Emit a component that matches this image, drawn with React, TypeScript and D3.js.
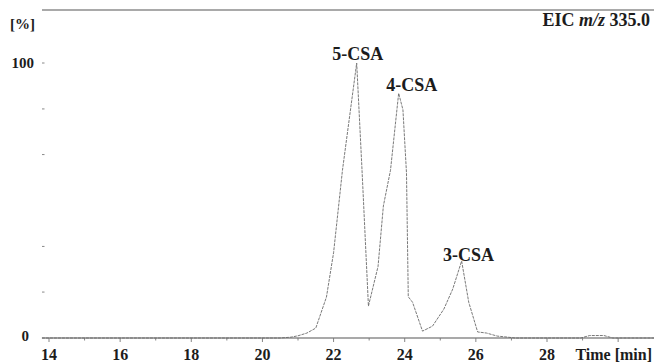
import * as d3 from "d3";
import { useEffect, useRef } from "react";

// retention time (min) and relative intensity (%)
const times = [
    13.8, 20.5, 20.8, 21.0, 21.25, 21.5, 21.8, 22.0, 22.25, 22.65, 22.8, 22.98,
    23.25, 23.4, 23.6, 23.83, 23.95, 24.05, 24.1, 24.22, 24.5, 24.78, 25.1,
    25.35, 25.6, 25.8, 26.05, 26.3, 26.6, 26.9, 27.1, 28.95, 29.2, 29.6, 29.85,
    31.2,
];
const intensity = [
    0, 0, 0.3, 0.8, 1.8, 3.6, 14.9, 31, 61, 100, 61, 11.6, 26, 48, 61, 89, 83,
    60, 15, 13, 2.5, 4.3, 10.5, 17.8, 28, 13, 2.2, 1.8, 0.7, 0.3, 0, 0, 0.9,
    0.9, 0, 0,
];

const xTickLabels = [14, 16, 18, 20, 22, 24, 26, 28];
const xMinorTicks = [14, 15, 16, 17, 18, 19, 20, 21, 22, 23, 24, 25, 26, 27, 28, 29, 30];
const yTicks = [100, 83.3, 66.7, 33.3, 16.7];

const peakNames = ["5-CSA", "4-CSA", "3-CSA"];
const peakTimes = [22.65, 23.83, 25.6];
const peakHeights = [100, 89, 28];

export default function App() {
    const ref = useRef<SVGSVGElement | null>(null);

    useEffect(() => {
        if (!ref.current) return;
        const svg = d3.select(ref.current);
        svg.selectAll("*").remove();

        const width = 654;
        const height = 363;
        const serif = "'Liberation Serif', 'DejaVu Serif', serif";
        const ink = "#1c1c1c";

        const x = d3.scaleLinear().domain([14, 28]).range([49, 547]);
        const y = d3.scaleLinear().domain([0, 100]).range([338, 63]);

        svg.attr("width", width).attr("height", height);

        svg.append("rect")
            .attr("width", width)
            .attr("height", height)
            .attr("fill", "white");

        // top frame line
        svg.append("line")
            .attr("x1", 42)
            .attr("x2", width)
            .attr("y1", 10)
            .attr("y2", 10)
            .attr("stroke", "#555")
            .attr("stroke-width", 1.2);

        // baseline / time axis
        svg.append("line")
            .attr("x1", 42)
            .attr("x2", width)
            .attr("y1", y(0))
            .attr("y2", y(0))
            .attr("stroke", "#555")
            .attr("stroke-width", 1.2);

        svg.append("g")
            .selectAll("line")
            .data(xMinorTicks)
            .join("line")
            .attr("x1", (d) => x(d))
            .attr("x2", (d) => x(d))
            .attr("y1", y(0))
            .attr("y2", (d) => y(0) + (d % 2 === 0 ? 4 : 2.5))
            .attr("stroke", "#777")
            .attr("stroke-width", 0.9);

        svg.append("g")
            .selectAll("text")
            .data(xTickLabels)
            .join("text")
            .attr("x", (d) => x(d))
            .attr("y", 360)
            .attr("text-anchor", "middle")
            .style("font-family", serif)
            .style("font-size", "16px")
            .style("font-weight", "700")
            .style("fill", ink)
            .text((d) => d);

        svg.append("text")
            .attr("x", 652)
            .attr("y", 360)
            .attr("text-anchor", "end")
            .style("font-family", serif)
            .style("font-size", "16px")
            .style("font-weight", "700")
            .style("fill", ink)
            .text("Time [min]");

        // y ticks (no vertical axis line in the original)
        svg.append("g")
            .selectAll("line")
            .data(yTicks)
            .join("line")
            .attr("x1", 42)
            .attr("x2", 44.5)
            .attr("y1", (d) => y(d))
            .attr("y2", (d) => y(d))
            .attr("stroke", "#888")
            .attr("stroke-width", 1);

        svg.append("text")
            .attr("x", 34)
            .attr("y", y(100) + 5)
            .attr("text-anchor", "end")
            .style("font-family", serif)
            .style("font-size", "15px")
            .style("font-weight", "700")
            .style("fill", ink)
            .text("100");

        svg.append("text")
            .attr("x", 29)
            .attr("y", y(0) + 3)
            .attr("text-anchor", "end")
            .style("font-family", serif)
            .style("font-size", "15px")
            .style("font-weight", "700")
            .style("fill", ink)
            .text("0");

        svg.append("text")
            .attr("x", 10)
            .attr("y", 29)
            .style("font-family", serif)
            .style("font-size", "15px")
            .style("font-weight", "700")
            .style("fill", ink)
            .text("[%]");

        const eic = svg
            .append("text")
            .attr("x", 650)
            .attr("y", 26)
            .attr("text-anchor", "end")
            .style("font-family", serif)
            .style("font-size", "18px")
            .style("font-weight", "700")
            .style("fill", ink);
        eic.append("tspan").text("EIC ");
        eic.append("tspan").style("font-style", "italic").text("m/z");
        eic.append("tspan").text(" 335.0");

        // the trace
        const points = times.map((t, i) => [t, intensity[i]] as [number, number]);
        const line = d3
            .line<[number, number]>()
            .x((d) => x(d[0]))
            .y((d) => y(d[1]));

        svg.append("path")
            .datum(points)
            .attr("d", line)
            .attr("fill", "none")
            .attr("stroke", "#6a6a6a")
            .attr("stroke-width", 0.9)
            .attr("stroke-dasharray", "3,1");

        // peak labels, nudged right of the apex like the original
        const labelDx = [1, 13, 7];
        const labelDy = [-3, -2, 0];
        svg.append("g")
            .selectAll("text")
            .data(peakNames)
            .join("text")
            .attr("x", (d, i) => x(peakTimes[i]) + labelDx[i])
            .attr("y", (d, i) => y(peakHeights[i]) + labelDy[i])
            .attr("text-anchor", "middle")
            .style("font-family", serif)
            .style("font-size", "18px")
            .style("font-weight", "700")
            .style("fill", ink)
            .text((d) => d);
    }, []);

    return <svg ref={ref} style={{ display: "block", position: "absolute", left: 0, top: 0 }} />;
}
